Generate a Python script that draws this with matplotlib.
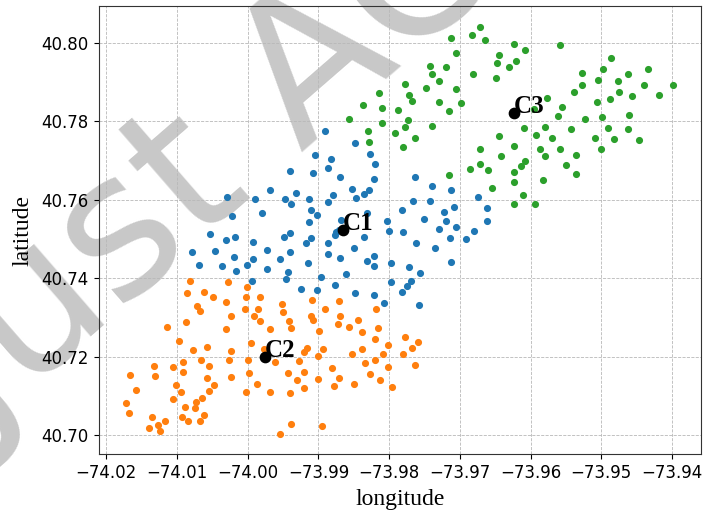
import matplotlib
matplotlib.use("Agg")
import matplotlib.pyplot as plt

# cluster 1 (blue)
lon1 = [-73.9890, -73.9848, -73.9905, -73.9827, -73.9882, -73.9820, -73.9940, -73.9907, -73.9887, -73.9869,
        -73.9821, -73.9764, -73.9968, -73.9931, -73.9880, -73.9853, -73.9835, -73.9828, -73.9739, -73.9712,
        -74.0029, -73.9990, -73.9947, -73.9939, -73.9914, -73.9887, -73.9847, -73.9766, -73.9742, -73.9674,
        -73.9910, -73.9902, -73.9980, -74.0022, -73.9831, -73.9782, -73.9722, -73.9708, -73.9661, -73.9914,
        -73.9868, -73.9803, -73.9751, -73.9720, -73.9661, -74.0053, -74.0031, -74.0018, -73.9993, -73.9948,
        -73.9940, -73.9910, -73.9917, -73.9877, -73.9871, -73.9835, -73.9800, -73.9780, -73.9730, -73.9705,
        -73.9680, -73.9714, -73.9692, -74.0079, -74.0046, -73.9973, -73.9940, -73.9886, -73.9850, -73.9762,
        -73.9735, -74.0069, -74.0037, -74.0020, -74.0016, -74.0001, -73.9992, -73.9973, -73.9954, -73.9943,
        -73.9946, -73.9994, -73.9886, -73.9869, -73.9831, -73.9822, -73.9821, -73.9798, -73.9772, -73.9756,
        -73.9713, -73.9861, -73.9897, -73.9798, -73.9769, -73.9925, -73.9902, -73.9876, -73.9848, -73.9822,
        -73.9782, -73.9775, -73.9807, -73.9758, -73.9915, -73.9875]
lat1 = [40.7775, 40.7745, 40.7714, 40.7716, 40.7705, 40.7691, 40.7672, 40.7667, 40.7682, 40.7658,
        40.7653, 40.7659, 40.7625, 40.7618, 40.7613, 40.7628, 40.7614, 40.7624, 40.7634, 40.7625,
        40.7608, 40.7603, 40.7601, 40.7589, 40.7601, 40.7594, 40.7605, 40.7598, 40.7597, 40.7608,
        40.7573, 40.7561, 40.7566, 40.7558, 40.7567, 40.7573, 40.7570, 40.7582, 40.7579, 40.7544,
        40.7548, 40.7546, 40.7551, 40.7545, 40.7546, 40.7514, 40.7497, 40.7506, 40.7492, 40.7505,
        40.7515, 40.7502, 40.7491, 40.7511, 40.7524, 40.7504, 40.7521, 40.7517, 40.7525, 40.7531,
        40.7520, 40.7503, 40.7500, 40.7467, 40.7469, 40.7473, 40.7466, 40.7489, 40.7477, 40.7489,
        40.7478, 40.7433, 40.7432, 40.7455, 40.7418, 40.7434, 40.7448, 40.7424, 40.7450, 40.7417,
        40.7397, 40.7393, 40.7462, 40.7452, 40.7445, 40.7432, 40.7457, 40.7439, 40.7429, 40.7413,
        40.7441, 40.7410, 40.7404, 40.7390, 40.7394, 40.7372, 40.7370, 40.7383, 40.7362, 40.7358,
        40.7364, 40.7381, 40.7337, 40.7331, 40.7439, 40.7518]

# cluster 2 (orange)
lon2 = [-74.0082, -74.0028, -74.0001, -74.0086, -74.0062, -74.0049, -74.0003, -73.9982, -74.0030, -74.0072,
        -74.0068, -74.0004, -73.9986, -73.9952, -73.9950, -74.0023, -73.9991, -73.9982, -74.0087, -74.0114,
        -74.0031, -73.9968, -73.9942, -73.9939, -74.0097, -74.0078, -74.0057, -74.0024, -73.9996, -74.0026,
        -74.0066, -73.9999, -74.0133, -74.0105, -74.0091, -74.0055, -74.0092, -74.0166, -74.0131, -74.0057,
        -74.0024, -73.9998, -74.0158, -74.0102, -74.0095, -74.0055, -74.0047, -74.0106, -74.0065, -74.0073,
        -74.0172, -74.0089, -74.0074, -74.0168, -74.0136, -74.0117, -74.0093, -74.0084, -74.0068, -74.0062,
        -74.0140, -74.0127, -74.0124, -74.0002, -73.9987, -73.9969, -73.9977, -73.9961, -73.9943, -73.9940,
        -73.9939, -73.9955, -73.9895, -73.9930, -73.9928, -73.9920, -73.9916, -73.9920, -73.9920, -73.9901,
        -73.9893, -73.9900, -73.9881, -73.9878, -73.9871, -73.9899, -73.9911, -73.9908, -73.9909, -73.9891,
        -73.9872, -73.9869, -73.9871, -73.9857, -73.9844, -73.9839, -73.9838, -73.9853, -73.9834, -73.9850,
        -73.9827, -73.9820, -73.9820, -73.9816, -73.9819, -73.9813, -73.9809, -73.9802, -73.9801, -73.9796,
        -73.9780, -73.9778, -73.9768, -73.9764, -73.9759]
lat2 = [40.7393, 40.7390, 40.7377, 40.7363, 40.7365, 40.7353, 40.7353, 40.7353, 40.7339, 40.7330,
        40.7317, 40.7322, 40.7322, 40.7334, 40.7315, 40.7303, 40.7305, 40.7292, 40.7288, 40.7277,
        40.7271, 40.7271, 40.7291, 40.7274, 40.7241, 40.7218, 40.7224, 40.7216, 40.7235, 40.7193,
        40.7191, 40.7191, 40.7176, 40.7175, 40.7188, 40.7176, 40.7162, 40.7154, 40.7150, 40.7146,
        40.7149, 40.7160, 40.7116, 40.7127, 40.7111, 40.7113, 40.7128, 40.7093, 40.7095, 40.7085,
        40.7083, 40.7071, 40.7070, 40.7057, 40.7046, 40.7037, 40.7047, 40.7037, 40.7036, 40.7053,
        40.7018, 40.7026, 40.7012, 40.7111, 40.7130, 40.7111, 40.7221, 40.7188, 40.7159, 40.7108,
        40.7028, 40.7004, 40.7024, 40.7141, 40.7189, 40.7211, 40.7223, 40.7161, 40.7120, 40.7203,
        40.7221, 40.7143, 40.7172, 40.7125, 40.7147, 40.7265, 40.7303, 40.7295, 40.7345, 40.7322,
        40.7283, 40.7303, 40.7341, 40.7277, 40.7295, 40.7263, 40.7221, 40.7207, 40.7185, 40.7132,
        40.7155, 40.7192, 40.7245, 40.7273, 40.7322, 40.7142, 40.7208, 40.7173, 40.7229, 40.7122,
        40.7208, 40.7251, 40.7223, 40.7178, 40.7237]

# cluster 3 (green)
lon3 = [-73.9671, -73.9712, -73.9683, -73.9665, -73.9623, -73.9608, -73.9558, -73.9706, -73.9645, -73.9647,
        -73.9620, -73.9630, -73.9742, -73.9720, -73.9740, -73.9730, -73.9682, -73.9649, -73.9777, -73.9748,
        -73.9706, -73.9814, -73.9772, -73.9768, -73.9730, -73.9698, -73.9837, -73.9810, -73.9788, -73.9715,
        -73.9857, -73.9773, -73.9810, -73.9739, -73.9777, -73.9830, -73.9791, -73.9764, -73.9828, -73.9780,
        -73.9486, -73.9434, -73.9497, -73.9462, -73.9527, -73.9505, -73.9477, -73.9398, -73.9439, -73.9527,
        -73.9538, -73.9475, -73.9419, -73.9488, -73.9457, -73.9577, -73.9506, -73.9555, -73.9595, -73.9561,
        -73.9499, -73.9523, -73.9461, -73.9609, -73.9579, -73.9543, -73.9490, -73.9462, -73.9592, -73.9569,
        -73.9644, -73.9509, -73.9482, -73.9446, -73.9624, -73.9587, -73.9559, -73.9501, -73.9671, -73.9642,
        -73.9579, -73.9536, -73.9672, -73.9608, -73.9613, -73.9550, -73.9686, -73.9660, -73.9624, -73.9536,
        -73.9716, -73.9624, -73.9583, -73.9654, -73.9610, -73.9624, -73.9594]
lat3 = [40.8041, 40.8013, 40.8020, 40.8008, 40.7997, 40.7981, 40.7994, 40.7973, 40.7969, 40.7949,
        40.7953, 40.7939, 40.7941, 40.7937, 40.7920, 40.7902, 40.7919, 40.7911, 40.7895, 40.7884,
        40.7882, 40.7872, 40.7868, 40.7852, 40.7848, 40.7847, 40.7841, 40.7833, 40.7829, 40.7826,
        40.7805, 40.7802, 40.7796, 40.7789, 40.7785, 40.7774, 40.7770, 40.7757, 40.7748, 40.7734,
        40.7961, 40.7933, 40.7933, 40.7919, 40.7922, 40.7905, 40.7902, 40.7892, 40.7892, 40.7892,
        40.7875, 40.7875, 40.7868, 40.7856, 40.7863, 40.7858, 40.7848, 40.7835, 40.7831, 40.7813,
        40.7811, 40.7806, 40.7816, 40.7782, 40.7786, 40.7780, 40.7782, 40.7779, 40.7766, 40.7756,
        40.7763, 40.7756, 40.7754, 40.7751, 40.7737, 40.7730, 40.7728, 40.7728, 40.7728, 40.7712,
        40.7711, 40.7713, 40.7691, 40.7698, 40.7686, 40.7689, 40.7679, 40.7677, 40.7670, 40.7665,
        40.7663, 40.7646, 40.7650, 40.7631, 40.7612, 40.7589, 40.7590]

# centroids
center_names = ["C1", "C2", "C3"]
center_lon = [-73.9865, -73.9976, -73.9624]
center_lat = [40.7522, 40.7199, 40.7820]

fig = plt.figure(figsize=(7.05, 5.19), dpi=100, facecolor="white")
ax = fig.add_axes([0.140, 0.125, 0.854, 0.863])
ax.set_facecolor("none")

# watermark behind the axes
fig.text(-0.025, 0.153, "Just ACCEPTED", fontsize=142, color="#c8c8c8",
         family="DejaVu Sans", rotation=41, rotation_mode="anchor",
         ha="left", va="baseline", zorder=-1)

ax.scatter(lon1, lat1, s=17, color="tab:blue", zorder=2)
ax.scatter(lon2, lat2, s=17, color="tab:orange", zorder=2)
ax.scatter(lon3, lat3, s=17, color="tab:green", zorder=2)
ax.scatter(center_lon, center_lat, s=55, color="black", zorder=3)
for name, x, y in zip(center_names, center_lon, center_lat):
    ax.text(x, y, name, fontsize=18, family="Liberation Serif", weight="bold", zorder=4)

ax.grid(True, linestyle="--", linewidth=0.6, color="#b8b8b8")
ax.set_xticks([-74.02, -74.01, -74.00, -73.99, -73.98, -73.97, -73.96, -73.95, -73.94])
ax.set_yticks([40.70, 40.72, 40.74, 40.76, 40.78, 40.80])
ax.set_xticklabels(["−74.02", "−74.01", "−74.00", "−73.99", "−73.98", "−73.97", "−73.96", "−73.95", "−73.94"])
ax.set_yticklabels(["40.70", "40.72", "40.74", "40.76", "40.78", "40.80"])
ax.tick_params(labelsize=12)
ax.set_xlabel("longitude", fontsize=17, family="Liberation Serif", labelpad=5)
ax.set_ylabel("latitude", fontsize=17, family="Liberation Serif", labelpad=6)
for sp in ax.spines.values():
    sp.set_color("#333333")

fig.savefig("out.png", dpi=100)
